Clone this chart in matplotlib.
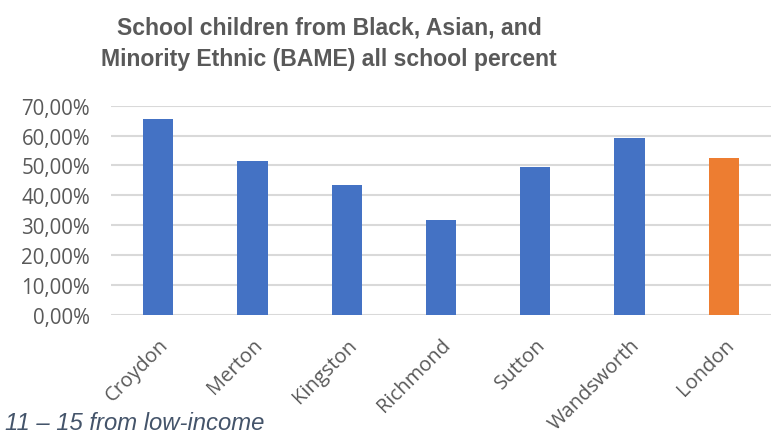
import matplotlib
matplotlib.use("Agg")
from matplotlib import pyplot as plt
from matplotlib.ticker import FuncFormatter

boroughs = ["Croydon", "Merton", "Kingston", "Richmond", "Sutton", "Wandsworth", "London"]
bame_share = [0.656, 0.515, 0.435, 0.319, 0.495, 0.592, 0.525]
bar_colors = ["#4472C4"] * 6 + ["#ED7D31"]
y_ticks = [0.0, 0.1, 0.2, 0.3, 0.4, 0.5, 0.6, 0.7]

text_grey = "#595959"

fig = plt.figure(figsize=(7.79, 4.39), dpi=100)
ax = fig.add_axes([0.1425, 0.2802, 0.8472, 0.4768])

x = range(len(boroughs))
ax.bar(x, bame_share, width=0.32, color=bar_colors, zorder=3)

ax.set_xlim(-0.5, len(boroughs) - 0.5)
ax.set_ylim(0, 0.7)
ax.set_yticks(y_ticks)
ax.yaxis.set_major_formatter(FuncFormatter(lambda v, _: f"{v * 100:.2f}%".replace(".", ",")))
ax.grid(axis="y", color="#D9D9D9", linewidth=1.5, zorder=0)
ax.set_axisbelow(True)
for s in ax.spines.values():
    s.set_visible(False)

ax.set_xticks(list(x))
ax.set_xticklabels(boroughs, rotation=45, ha="right", rotation_mode="anchor",
                   fontsize=14.5, color=text_grey, family="Open Sans")
ax.tick_params(axis="both", length=0)
ax.tick_params(axis="x", pad=14)
ax.tick_params(axis="y", pad=15)
for lbl in ax.get_yticklabels():
    lbl.set_fontsize(14.8)
    lbl.set_color(text_grey)
    lbl.set_family("Open Sans")

# title sits left of the plot centre in the original
fig.text(329 / 779, 1 - 44 / 439,
         "School children from Black, Asian, and\nMinority Ethnic (BAME) all school percent",
         ha="center", va="center", fontsize=16.6, fontweight="bold",
         color=text_grey, family="Liberation Sans", linespacing=1.45)

fig.text(5 / 779, 1 - 424 / 439, "11 \u2013 15 from low-income",
         ha="left", va="center", fontsize=17.2, style="italic",
         color="#44546A", family="Liberation Sans")

plt.savefig("out.png", dpi=100)
